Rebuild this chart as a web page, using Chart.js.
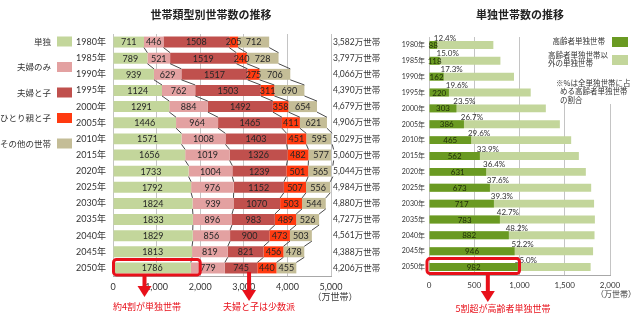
<!DOCTYPE html>
<html><head><meta charset="utf-8">
<script src="https://cdn.jsdelivr.net/npm/chart.js@4/dist/chart.umd.min.js"></script>
<style>
html,body{margin:0;padding:0;background:#fff;}
#wrap{position:relative;width:640px;height:322px;overflow:hidden;}
canvas{position:absolute;left:0;top:0;}
</style></head><body>
<div id="wrap"><canvas id="c1" width="640" height="322"></canvas><canvas id="c2" width="640" height="322"></canvas></div>
<script>
// ---- data ----
const years = ['1980年','1985年','1990年','1995年','2000年','2005年','2010年','2015年','2020年','2025年','2030年','2035年','2040年','2045年','2050年'];
const single       = [711,789,939,1124,1291,1446,1571,1656,1733,1792,1824,1833,1829,1813,1786];
const couple       = [446,521,629,762,884,964,1008,1019,1004,976,939,896,856,819,779];
const coupleChild  = [1508,1519,1517,1503,1492,1465,1403,1326,1239,1152,1070,983,900,821,745];
const singleParent = [205,240,275,311,358,411,451,482,501,507,503,489,473,456,440];
const otherHH      = [712,728,706,690,654,621,595,577,565,556,544,526,503,478,455];
const totalLabels  = ['3,582','3,797','4,066','4,390','4,679','4,906','5,029','5,060','5,044','4,984','4,880','4,727','4,561','4,388','4,206'];
const elderlySingle = [88,118,162,220,303,386,465,562,631,673,717,783,882,946,982];
const elderlyPct   = ['12.4%','15.0%','17.3%','19.6%','23.5%','26.7%','29.6%','33.9%','36.4%','37.6%','39.3%','42.7%','48.2%','52.2%','55.0%'];
const leftAxisMax = 5000, leftAxisStep = 1000;
const rightAxisMax = 2000, rightAxisStep = 500;

const NUM = "Lato, 'Noto Sans CJK JP', sans-serif";
const JP = "'Noto Sans CJK JP', sans-serif";
const RED = '#e8101a';

function arrow(ctx, x, y0, y1){
  ctx.save();
  ctx.fillStyle = RED;
  ctx.fillRect(x-2, y0, 4, (y1-11)-y0+1);
  ctx.beginPath();
  ctx.moveTo(x-7, y1-11); ctx.lineTo(x+7, y1-11); ctx.lineTo(x, y1); ctx.closePath();
  ctx.fill();
  ctx.restore();
}
function rrect(ctx, x1, y1, x2, y2, r){
  ctx.save();
  ctx.strokeStyle = RED; ctx.lineWidth = 3;
  ctx.beginPath();
  ctx.roundRect(x1, y1, x2-x1, y2-y1, r);
  ctx.stroke();
  ctx.restore();
}

// ---- left chart ----
const leftSeries = [
  {label:'単独', data:single, color:'#c3d69b'},
  {label:'夫婦のみ', data:couple, color:'#e3a1a1'},
  {label:'夫婦と子', data:coupleChild, color:'#c0504d'},
  {label:'ひとり親と子', data:singleParent, color:'#ff3a10'},
  {label:'その他の世帯', data:otherHH, color:'#c4bd97'}
];

const leftPlugin = {
  id:'leftDecor',
  afterDatasetsDraw(chart){
    const ctx = chart.ctx, xs = chart.scales.x;
    ctx.save();
    // connector lines
    ctx.strokeStyle = '#4a4a4a'; ctx.lineWidth = 1;
    chart.data.datasets.forEach((ds, d) => {
      const meta = chart.getDatasetMeta(d);
      for (let i = 0; i < meta.data.length-1; i++){
        const a = meta.data[i], b = meta.data[i+1];
        ctx.beginPath();
        ctx.moveTo(a.x, a.y + a.height/2);
        ctx.lineTo(b.x, b.y - b.height/2);
        ctx.stroke();
      }
    });
    // data labels
    ctx.font = '9px ' + NUM; ctx.textAlign = 'center'; ctx.textBaseline = 'middle';
    ctx.fillStyle = '#262626';
    chart.data.datasets.forEach((ds, d) => {
      const meta = chart.getDatasetMeta(d);
      meta.data.forEach((el, i) => {
        ctx.fillText(String(ds.data[i]), (el.x + el.base)/2, el.y + 0.5);
      });
    });
    // totals
    ctx.textAlign = 'left'; ctx.font = '8.5px ' + NUM; ctx.fillStyle = '#333';
    const m0 = chart.getDatasetMeta(0);
    const xr = xs.getPixelForValue(leftAxisMax);
    m0.data.forEach((el, i) => ctx.fillText(totalLabels[i] + '万世帯', xr + 2, el.y));
    // unit
    ctx.textAlign = 'center'; ctx.font = '9px ' + JP;
    ctx.fillText('（万世帯）', xr + 4, 297);
    // legend
    chart.data.datasets.forEach((ds, d) => {
      const y = 41.5 + d*25.5;
      ctx.textAlign = 'right'; ctx.font = '8.5px ' + JP; ctx.fillStyle = '#333';
      ctx.fillText(ds.label, 51, y);
      ctx.fillStyle = ds.backgroundColor;
      ctx.fillRect(57, y-5, 15, 10);
    });
    // title
    ctx.textAlign = 'center'; ctx.font = 'bold 11px ' + JP; ctx.fillStyle = '#222';
    ctx.fillText('世帯類型別世帯数の推移', 211, 15);
    // annotations
    const last = m0.data[m0.data.length-1];
    rrect(ctx, last.base, last.y - 8.5, xs.getPixelForValue(2000), last.y + 7, 3);
    arrow(ctx, last.base + 31, last.y + 8, 297);
    ctx.fillStyle = RED; ctx.font = '9px ' + JP; ctx.textAlign = 'center';
    ctx.fillText('約4割が単独世帯', 147, 307);
    const m2 = chart.getDatasetMeta(2).data[m0.data.length-1];
    arrow(ctx, (m2.x + m2.base)/2 + 8, m2.y + 4, 301);
    ctx.fillStyle = RED;
    ctx.fillText('夫婦と子は少数派', 259, 307);
    ctx.restore();
  }
};

new Chart(document.getElementById('c1'), {
  type:'bar',
  data:{labels:years, datasets:leftSeries.map(s => ({label:s.label, data:s.data, backgroundColor:s.color, borderWidth:0, barPercentage:0.68, categoryPercentage:1}))},
  options:{
    responsive:false, animation:false, indexAxis:'y',
    layout:{padding:{left:0, right:309, top:34, bottom:0}},
    plugins:{legend:{display:false}, tooltip:{enabled:false}},
    scales:{
      x:{stacked:true, min:0, max:leftAxisMax,
         ticks:{stepSize:leftAxisStep, font:{family:NUM, size:9}, color:'#333', padding:6, maxRotation:0},
         grid:{color:'#c4c4c4', drawTicks:false}, border:{display:true, color:'#a8a8a8'},
         afterFit:s => { s.height = 46; }},
      y:{stacked:true,
         ticks:{font:{family:NUM, size:9}, color:'#333', padding:7, autoSkip:false},
         grid:{display:false, drawTicks:false}, border:{display:false},
         afterFit:s => { s.width = 113; }}
    }
  },
  plugins:[leftPlugin]
});

// ---- right chart ----
const rightPlugin = {
  id:'rightDecor',
  beforeDatasetsDraw(chart){
    const ctx = chart.ctx;
    ctx.save(); ctx.fillStyle = '#fff';
    ctx.fillRect(545, 28, 95, 76);
    ctx.restore();
  },
  afterDatasetsDraw(chart){
    const ctx = chart.ctx, xs = chart.scales.x;
    ctx.save();
    const m0 = chart.getDatasetMeta(0);
    ctx.textBaseline = 'middle'; ctx.textAlign = 'center';
    ctx.font = '8px ' + NUM;
    m0.data.forEach((el, i) => {
      ctx.fillStyle = '#1f2c08';
      ctx.fillText(String(elderlySingle[i]), (el.x + el.base)/2, el.y + 0.5);
      ctx.fillStyle = '#333';
      ctx.fillText(elderlyPct[i], el.x + 8, el.y - 7);
    });
    // unit
    ctx.font = '8px ' + JP; ctx.fillStyle = '#333';
    ctx.fillText('（万世帯）', xs.getPixelForValue(rightAxisMax) + 6, 294);
    // legend
    const ds = chart.data.datasets;
    ctx.font = '7.5px ' + JP; ctx.textAlign = 'right';
    ctx.fillText('高齢者単独世帯', 605, 41.5);
    ctx.fillStyle = ds[0].backgroundColor; ctx.fillRect(612, 37, 16, 10);
    ctx.fillStyle = '#333'; ctx.textAlign = 'left';
    ctx.fillText('高齢者単独世帯以', 548, 55);
    ctx.fillText('外の単独世帯', 548, 63.5);
    ctx.fillStyle = ds[1].backgroundColor; ctx.fillRect(612, 55, 16, 10);
    ctx.fillStyle = '#333';
    ctx.fillText('※%は全単独世帯に占', 556, 83);
    ctx.fillText('める高齢者単独世帯', 560, 91.5);
    ctx.fillText('の割合', 560, 100);
    // title
    ctx.textAlign = 'center'; ctx.font = 'bold 11px ' + JP; ctx.fillStyle = '#222';
    ctx.fillText('単独世帯数の推移', 520, 15);
    // annotation
    const last = m0.data[m0.data.length-1];
    rrect(ctx, last.base - 2.5, last.y - 8.5, xs.getPixelForValue(1000), last.y + 6.5, 3);
    arrow(ctx, xs.getPixelForValue(650), last.y + 6.5, 302);
    ctx.fillStyle = RED; ctx.font = '9px ' + JP; ctx.textAlign = 'center';
    ctx.fillText('5割超が高齢者単独世帯', 503, 309);
    ctx.restore();
  }
};

new Chart(document.getElementById('c2'), {
  type:'bar',
  data:{labels:years, datasets:[
    {label:'高齢者単独世帯', data:elderlySingle, backgroundColor:'#6a9a22', borderWidth:0, barPercentage:0.5, categoryPercentage:1},
    {label:'高齢者単独世帯以外の単独世帯', data:single, backgroundColor:'#c3d69b', borderWidth:0, barPercentage:0.5, categoryPercentage:1}
  ]},
  options:{
    responsive:false, animation:false, indexAxis:'y',
    layout:{padding:{left:0, right:30, top:37, bottom:0}},
    plugins:{legend:{display:false}, tooltip:{enabled:false}},
    scales:{
      x:{stacked:false, min:0, max:rightAxisMax,
         ticks:{stepSize:rightAxisStep, font:{family:NUM, size:8}, color:'#333', padding:6, maxRotation:0},
         grid:{color:'#c4c4c4', drawTicks:false}, border:{display:true, color:'#a8a8a8'},
         afterFit:s => { s.height = 47; }},
      y:{stacked:true,
         ticks:{font:{family:NUM, size:7}, color:'#333', padding:4, autoSkip:false},
         grid:{display:false, drawTicks:false}, border:{display:false},
         afterFit:s => { s.width = 429; }}
    }
  },
  plugins:[rightPlugin]
});
</script>
</body></html>
